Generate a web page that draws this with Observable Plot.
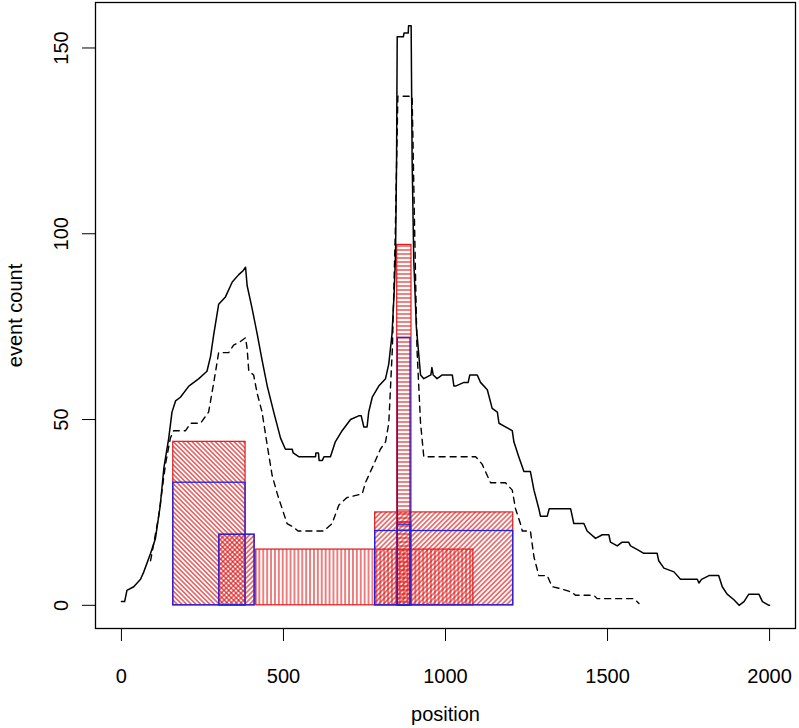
<!DOCTYPE html>
<html>
<head>
<meta charset="utf-8">
<script src="https://cdn.jsdelivr.net/npm/d3@7"></script>
<script src="https://cdn.jsdelivr.net/npm/@observablehq/plot@0.6"></script>
<style>
  html, body { margin: 0; padding: 0; background: #fff; }
  svg { display: block; }
</style>
</head>
<body>
<div id="chart"></div>
<script>
// ---- data ----
const solidPos = [0,10,17,38,59,69,90,105,120,131,146,156,167,182,208,239,264,275,285,300,321,342,362,375,383,388,403,419,434,450,470,491,506,527,530,547,599,600,608,610,620,625,645,660,681,707,732,740,748,758,763,774,794,815,825,835,842,846,849,851,870,872,885,886,894,897,902,910,915,923,933,955,958,962,974,990,1021,1026,1031,1057,1070,1075,1083,1098,1108,1129,1144,1160,1165,1185,1206,1211,1226,1242,1262,1273,1288,1293,1314,1320,1340,1386,1396,1427,1437,1463,1484,1504,1509,1530,1545,1565,1571,1592,1612,1653,1658,1674,1705,1725,1777,1782,1790,1813,1843,1854,1869,1890,1906,1921,1936,1967,1978,1998,2000];
const solidCount = [1,1,4,5,7,9,14,18,27,37,45,52,55,56,59,61,63,67,73,81,83,87,89,90,91,86,80,73,66,59,52,45,42,42,41,40,40,41,41,39,39,40,40,44,47,50,51,51,48,48,52,56,59,61,65,73,85,95,120,153,153,154,154,156,156,120,93,75,70,62,61,62,64,62,61,62,62,59,59,60,60,62,62,62,60,58,53,52,49,48,47,44,40,36,36,31,26,24,24,26,26,26,22,22,20,18,19,19,17,16,17,17,16,15,14,14,12,10,9,7,7,6,7,8,8,5,3,1.5,0,1,3,3,1,0,0];

const dashPos = [90,115,136,151,161,198,213,244,269,285,300,331,346,367,383,388,393,408,419,434,450,465,481,496,511,532,545,624,650,671,696,743,753,779,799,815,825,836,845,853,897,905,912,923,933,1093,1113,1139,1185,1206,1216,1231,1237,1262,1273,1288,1314,1329,1355,1391,1401,1458,1468,1581,1597];
const dashCount = [12,24,38,45,47,47,49,49,52,60,68,68,70,71,72,69,63,62,57,52,43,35,30,26,22,21,20,20,22,27,29,30,33,38,42,44,49,69,100,137,137,100,69,49,40,40,38,33,33,31,26,22,20,20,13,8,8,5,4.5,3.5,2.7,2.7,1.8,1.8,0.5];

// red hatched regions
const redStart = [160, 302, 416, 783, 851, 851];
const redEnd   = [383, 411, 1086, 1209, 895, 895];
const redTop   = [44, 19, 15, 25, 97, 22.3];
const redHatch = ["hatchBack", "hatchFwd", "hatchVert", "hatchFwd", "hatchHoriz", "none"];

// blue outlined regions
const blueStart = [160, 302, 783, 853, 853];
const blueEnd   = [383, 411, 1209, 892, 892];
const blueTop   = [33, 19, 20, 72, 21.7];

const xTicks = [0, 500, 1000, 1500, 2000];
const yTicks = [0, 50, 100, 150];
const xLabel = "position";
const yLabel = "event count";

// ---- build tables ----
const solid = solidPos.map((p, i) => ({p, v: solidCount[i]}));
const dashed = dashPos.map((p, i) => ({p, v: dashCount[i]}));
const reds = redStart.map((s, i) => ({x1: s, x2: redEnd[i], top: redTop[i], hatch: redHatch[i]}));
const blues = blueStart.map((s, i) => ({x1: s, x2: blueEnd[i], top: blueTop[i]}));

const RED = "#e01818";
const BLUE = "#2020e0";
const FONT = "Liberation Sans, Arial, Helvetica, sans-serif";

const redMarks = reds.map(d => Plot.rect([d], {
  x1: "x1", x2: "x2", y1: 0, y2: "top",
  fill: d.hatch === "none" ? "none" : `url(#${d.hatch})`,
  stroke: RED, strokeWidth: 1.2
}));

const svg = Plot.plot({
  width: 799,
  height: 728,
  marginLeft: 95,
  marginRight: 4,
  marginTop: 2,
  marginBottom: 100,
  style: {fontSize: "20px", fontFamily: FONT, background: "white", color: "black"},
  x: {domain: [-80, 2080], ticks: xTicks, tickSize: 13, tickPadding: 27, tickFormat: d => String(d), label: null},
  y: {domain: [-6.24, 162.24], ticks: yTicks, tickSize: 13, tickFormat: () => "", label: null},
  marks: [
    ...redMarks,
    Plot.rect(blues, {x1: "x1", x2: "x2", y1: 0, y2: "top", fill: "none", stroke: BLUE, strokeWidth: 1.3}),
    Plot.line(dashed, {x: "p", y: "v", stroke: "black", strokeWidth: 1.4, strokeDasharray: "6,5"}),
    Plot.line(solid, {x: "p", y: "v", stroke: "black", strokeWidth: 1.5}),
    Plot.text(yTicks, {y: d => d, text: d => String(d), frameAnchor: "left", dx: -34, rotate: -90, textAnchor: "middle", lineAnchor: "middle", fontSize: 20}),
    Plot.text([xLabel], {text: d => d, frameAnchor: "bottom", dy: 86, textAnchor: "middle", lineAnchor: "middle", fontSize: 20}),
    Plot.text([yLabel], {text: d => d, frameAnchor: "left", dx: -80, rotate: -90, textAnchor: "middle", lineAnchor: "middle", fontSize: 20}),
    Plot.frame({stroke: "black", strokeWidth: 1.3})
  ]
});

// hatch patterns
const NS = "http://www.w3.org/2000/svg";
const defs = document.createElementNS(NS, "defs");
function addPattern(id, size, angle) {
  const p = document.createElementNS(NS, "pattern");
  p.setAttribute("id", id);
  p.setAttribute("patternUnits", "userSpaceOnUse");
  p.setAttribute("width", size);
  p.setAttribute("height", size);
  p.setAttribute("patternTransform", `rotate(${angle})`);
  const l = document.createElementNS(NS, "line");
  l.setAttribute("x1", size / 2);
  l.setAttribute("x2", size / 2);
  l.setAttribute("y1", -1);
  l.setAttribute("y2", size + 1);
  l.setAttribute("stroke", RED);
  l.setAttribute("stroke-width", 1.1);
  p.appendChild(l);
  defs.appendChild(p);
}
addPattern("hatchBack", 3.3, -45);
addPattern("hatchFwd", 3.5, 45);
addPattern("hatchVert", 3.9, 0);
addPattern("hatchHoriz", 4, 90);
svg.insertBefore(defs, svg.firstChild);

document.getElementById("chart").appendChild(svg);
</script>
</body>
</html>
